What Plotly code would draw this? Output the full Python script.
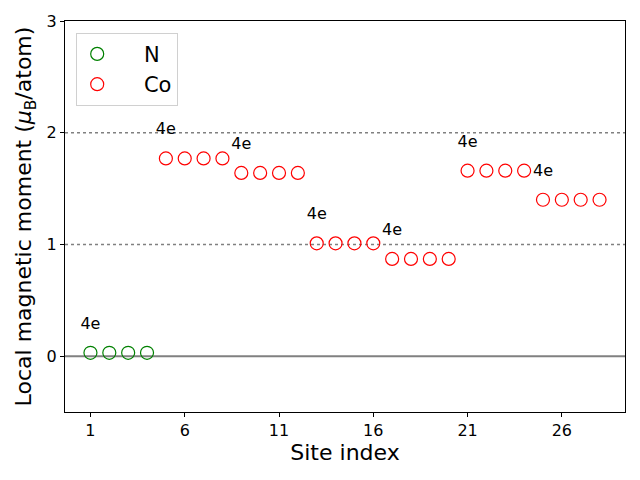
import plotly.graph_objects as go

# site indices and local moments (mu_B/atom)
n_sites = [1, 2, 3, 4]
n_moments = [0.03, 0.03, 0.03, 0.03]

co_sites = list(range(5, 29))
co_moments = [1.77, 1.77, 1.77, 1.77,
              1.64, 1.64, 1.64, 1.64,
              1.01, 1.01, 1.01, 1.01,
              0.87, 0.87, 0.87, 0.87,
              1.66, 1.66, 1.66, 1.66,
              1.40, 1.40, 1.40, 1.40]

# Wyckoff labels placed above the first site of each group
label_sites = [1, 5, 9, 13, 17, 21, 25]
label_moments = [0.03, 1.77, 1.64, 1.01, 0.87, 1.66, 1.40]
label_text = ["4e"] * len(label_sites)

x_ticks = [1, 6, 11, 16, 21, 26]
y_ticks = [0, 1, 2, 3]

pad = "\u00a0" * 4  # push legend text away from the marker

fig = go.Figure()

fig.add_trace(go.Scatter(
    x=n_sites, y=n_moments, mode="markers", name=pad + "N",
    marker=dict(symbol="circle-open", size=13, color="green", line=dict(width=1.2))))

fig.add_trace(go.Scatter(
    x=co_sites, y=co_moments, mode="markers", name=pad + "Co",
    marker=dict(symbol="circle-open", size=13, color="red", line=dict(width=1.2))))

fig.add_trace(go.Scatter(
    x=label_sites, y=[v + 0.25 for v in label_moments], mode="text",
    text=label_text, textposition="middle center",
    textfont=dict(size=16, color="black"), showlegend=False, hoverinfo="skip"))

fig.add_hline(y=0, line_color="gray", line_width=2, layer="below")
fig.add_hline(y=1, line_color="gray", line_width=1.5, line_dash="dot", layer="below")
fig.add_hline(y=2, line_color="gray", line_width=1.5, line_dash="dot", layer="below")

axis_style = dict(showgrid=False, zeroline=False, showline=True, mirror=True,
                  linecolor="black", linewidth=1, ticks="outside", ticklen=4,
                  tickcolor="black", tickfont=dict(size=16, color="black"),
                  automargin=False)

fig.update_xaxes(range=[-0.35, 29.35], tickvals=x_ticks,
                 title=dict(text="Site index", font=dict(size=22, color="black"), standoff=4),
                 **axis_style)
fig.update_yaxes(range=[-0.5, 3], tickvals=y_ticks,
                 title=dict(text="Local magnetic moment (<i>μ</i><sub>B</sub>/atom)",
                            font=dict(size=22, color="black"), standoff=8),
                 **axis_style)

# page body has an 8px margin, so the figure is shrunk to fit the window
fig.update_layout(
    width=632, height=472,
    margin=dict(l=57, r=15, t=13, b=68),
    plot_bgcolor="white", paper_bgcolor="white",
    font=dict(family="DejaVu Sans", color="black"),
    legend=dict(x=0.02, y=0.97, xanchor="left", yanchor="top",
                bgcolor="white", bordercolor="#d0d0d0", borderwidth=1,
                font=dict(size=21, color="black"),
                tracegroupgap=6),
)

fig.write_html("out.html")
